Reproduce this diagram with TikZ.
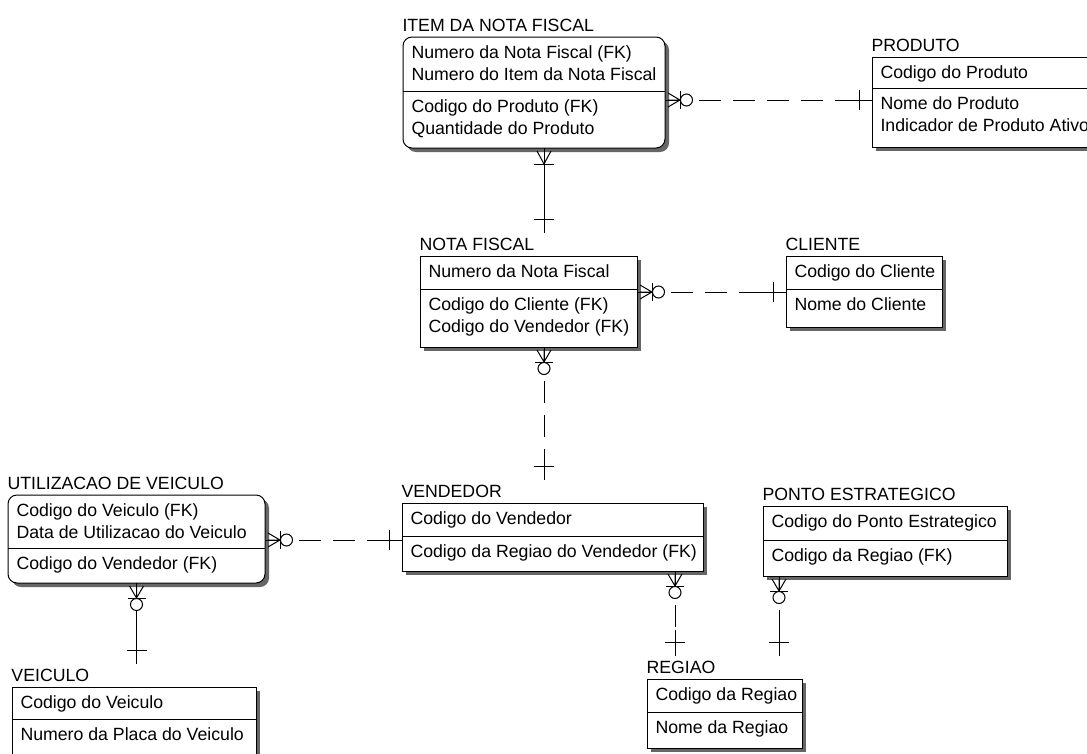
\documentclass[tikz,border=0pt]{standalone}
\usepackage{fontspec}
\setmainfont{Liberation Sans}
\usepackage{tikz}
\usetikzlibrary{shadows}
\tikzset{
    ent/.style={draw, fill=white, inner sep=0pt, outer sep=0pt,
        drop shadow={shadow xshift=4pt, shadow yshift=-4pt, fill=black!60, opacity=1}},
    etitle/.style={anchor=base west, inner sep=0pt, text height=17pt, text depth=3pt},
    attr/.style={anchor=base west, inner sep=0pt},
    ident/.style={},
    nonident/.style={dash pattern=on 22pt off 12pt},
    % child end: crow's foot, bar and circle
    zeromany/.pic={
        \draw (0,0) -- (28,0);
        \draw (3,-7) -- (15,0) -- (3,7) (3,0) -- (15,0);
        \draw (15,-9) -- (15,9);
        \draw[fill=white] (21.5,0) circle[radius=6];
    },
    % child end: crow's foot and bar
    onemany/.pic={
        \draw (3,-7) -- (16,0) -- (3,7);
        \draw (16,-10) -- (16,10);
    },
    % parent end: single bar
    onlyone/.pic={
        \draw (0,0) -- (26,0);
        \draw (13,-10) -- (13,10);
    }
}
% rows of one section, first baseline 21.5 below its top edge
\newcommand{\entrows}[3]{%
    \foreach \txt [count=\i] in {#3}
        \node[attr] (#1\i) at ([shift={(8,{21.5+22*(\i-1)})}]#2) {\txt};
}
% [style]{name}{left,top}{width}{key height}{attr height}{title}{keys}{attrs}
\newcommand{\entity}[9][]{%
    \node[ent, #1, anchor=north west, minimum width=#4, minimum height={#5+#6}] (#2) at (#3) {};
    \node[etitle] (#2-t) at ([shift={(-1,-6)}]#2.north west) {#7};
    \draw ([yshift=-#5]#2.north west) coordinate (#2-div) -- ([yshift=-#5]#2.north east);
    \entrows{#2-k}{#2.north west}{#8}
    \entrows{#2-a}{#2-div}{#9}
}

\begin{document}
\begin{tikzpicture}[x=1pt, y=-1pt, line width=1pt, font=\fontsize{17.7}{22}\selectfont]
    \fill[white] (0,0) rectangle (1087,753);
    \useasboundingbox (0,0) rectangle (1087,753);

    % entidades
    \entity[rounded corners=9pt]{item}{403,37}{262pt}{54pt}{57pt}{ITEM DA NOTA FISCAL}
        {Numero da Nota Fiscal (FK), Numero do Item da Nota Fiscal}{Codigo do Produto (FK), Quantidade do Produto}
    \entity{produto}{872,57}{240pt}{31pt}{59pt}{PRODUTO}
        {Codigo do Produto}{Nome do Produto, Indicador de Produto Ativo}
    \entity{nota}{420,256}{217pt}{33pt}{58pt}{NOTA FISCAL}
        {Numero da Nota Fiscal}{Codigo do Cliente (FK), Codigo do Vendedor (FK)}
    \entity{cliente}{786,256}{156pt}{33pt}{38pt}{CLIENTE}
        {Codigo do Cliente}{Nome do Cliente}
    \entity{vendedor}{402,503}{301pt}{33pt}{35pt}{VENDEDOR}
        {Codigo do Vendedor}{Codigo da Regiao do Vendedor (FK)}
    \entity[rounded corners=9pt]{utilizacao}{8,495}{257pt}{53pt}{35pt}{UTILIZACAO DE VEICULO}
        {Codigo do Veiculo (FK), Data de Utilizacao do Veiculo}{Codigo do Vendedor (FK)}
    \entity{ponto}{763,506}{244pt}{34pt}{36pt}{PONTO ESTRATEGICO}
        {Codigo do Ponto Estrategico}{Codigo da Regiao (FK)}
    \entity{regiao}{647,679}{155pt}{33pt}{36pt}{REGIAO}
        {Codigo da Regiao}{Nome da Regiao}
    \entity{veiculo}{12,687}{244pt}{32pt}{40pt}{VEICULO}
        {Codigo do Veiculo}{Numero da Placa do Veiculo}

    % relacionamentos
    \draw[nonident] ([yshift=-7.5pt]item.east) coordinate (r1) -- (r1 -| produto.west) coordinate (r1p);
    \pic at (r1) {zeromany}; \pic[rotate=180] at (r1p) {onlyone};

    \draw[ident] ([xshift=10pt]item.south) coordinate (r2) -- (r2 |- nota-t.north) coordinate (r2p);
    \pic[rotate=-90] at (r2) {onemany}; \pic[rotate=90] at (r2p) {onlyone};

    \draw[nonident] ([yshift=9.5pt]nota.east) coordinate (r3) -- (r3 -| cliente.west) coordinate (r3p);
    \pic at (r3) {zeromany}; \pic[rotate=180] at (r3p) {onlyone};

    \draw[nonident] ([xshift=15.5pt]nota.south) coordinate (r4) -- (r4 |- vendedor-t.north) coordinate (r4p);
    \pic[rotate=-90] at (r4) {zeromany}; \pic[rotate=90] at (r4p) {onlyone};

    \draw[nonident] ([yshift=-1pt]utilizacao.east) coordinate (r5) -- (r5 -| vendedor.west) coordinate (r5p);
    \pic at (r5) {zeromany}; \pic[rotate=180] at (r5p) {onlyone};

    \draw[ident] (utilizacao.south) coordinate (r6) -- (r6 |- veiculo-t.north) coordinate (r6p);
    \pic[rotate=-90] at (r6) {zeromany}; \pic[rotate=90] at (r6p) {onlyone};

    \draw[nonident] ([xshift=122.5pt]vendedor.south) coordinate (r7) -- (r7 |- regiao-t.north) coordinate (r7p);
    \pic[rotate=-90] at (r7) {zeromany}; \pic[rotate=90] at (r7p) {onlyone};

    \draw[nonident] ([xshift=-106pt]ponto.south) coordinate (r8) -- (r8 |- regiao-t.north) coordinate (r8p);
    \pic[rotate=-90] at (r8) {zeromany}; \pic[rotate=90] at (r8p) {onlyone};
\end{tikzpicture}
\end{document}
